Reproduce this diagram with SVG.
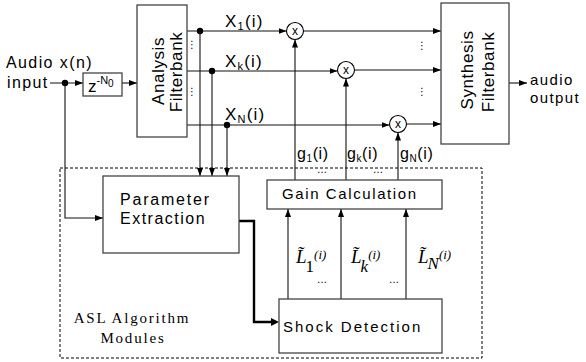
<svg xmlns="http://www.w3.org/2000/svg" width="586" height="362" viewBox="0 0 586 362">
<defs>
<marker id="ah" viewBox="0 0 8 6" refX="8" refY="3" markerWidth="8" markerHeight="6" markerUnits="userSpaceOnUse" orient="auto">
<path d="M0,0 L8,3 L0,6 Z" fill="#000"/>
</marker>
</defs>
<style>
.box{fill:#fff;stroke:#444;stroke-width:1.3}
.ln{fill:none;stroke:#111;stroke-width:1.1}
.thick{fill:none;stroke:#000;stroke-width:2.4}
.t{font-family:"Liberation Sans",Arial,sans-serif;font-size:16px;fill:#000;letter-spacing:1.4px}
.lbl{font-family:"Liberation Sans",Arial,sans-serif;font-size:17px;fill:#000;letter-spacing:1.2px}
.g{font-family:"Liberation Sans",Arial,sans-serif;font-size:16px;fill:#000;letter-spacing:0.6px}
.sub{font-size:11px}
.math{font-family:"Liberation Serif","Times New Roman",serif;font-style:italic;fill:#000}
.dots{font-family:"DejaVu Sans",sans-serif;font-size:10px;fill:#000}
.dot{fill:#000}
.mx{font-family:"Liberation Sans",Arial,sans-serif;font-size:12px;fill:#000}
</style>
<rect x="0" y="0" width="586" height="362" fill="#fff"/>

<g id="asl-region">
<rect x="60" y="168" width="422" height="190" fill="none" stroke="#000" stroke-width="1" stroke-dasharray="3,2"/>
<text x="132" y="323" text-anchor="middle" style="font-family:'Liberation Serif','Times New Roman',serif;font-size:15px;letter-spacing:1.8px">ASL Algorithm</text>
<text x="133" y="343" text-anchor="middle" style="font-family:'Liberation Serif','Times New Roman',serif;font-size:15px;letter-spacing:1.8px">Modules</text>
</g>

<g id="connectors">
<path class="ln" d="M50,83 H83" marker-end="url(#ah)"/>
<circle class="dot" cx="65" cy="83" r="3.2"/>
<path class="ln" d="M122,83 H137" marker-end="url(#ah)"/>
<path class="ln" d="M65,83 V218 H103" marker-end="url(#ah)"/>
<path class="ln" d="M187,31 H286.5" marker-end="url(#ah)"/>
<path class="ln" d="M187,71 H337.5" marker-end="url(#ah)"/>
<path class="ln" d="M187,125 H389.5" marker-end="url(#ah)"/>
<circle class="dot" cx="200" cy="31" r="3.2"/>
<circle class="dot" cx="212" cy="71" r="3.2"/>
<circle class="dot" cx="227" cy="125" r="3.2"/>
<path class="ln" d="M200,31 V176" marker-end="url(#ah)"/>
<path class="ln" d="M212,71 V176" marker-end="url(#ah)"/>
<path class="ln" d="M227,125 V176" marker-end="url(#ah)"/>
<path class="ln" d="M303.5,31 H441" marker-end="url(#ah)"/>
<path class="ln" d="M354.5,70 H441" marker-end="url(#ah)"/>
<path class="ln" d="M406.5,124 H441" marker-end="url(#ah)"/>
<path class="ln" d="M509,83 H527" marker-end="url(#ah)"/>
<path class="ln" d="M295,180 V39.5" marker-end="url(#ah)"/>
<path class="ln" d="M346,180 V78.5" marker-end="url(#ah)"/>
<path class="ln" d="M398,180 V132.5" marker-end="url(#ah)"/>
<path class="ln" d="M288,299 V209" marker-end="url(#ah)"/>
<path class="ln" d="M341,299 V209" marker-end="url(#ah)"/>
<path class="ln" d="M406,299 V209" marker-end="url(#ah)"/>
<path class="thick" d="M239,221 H254 V322 H272"/>
<path d="M271,318 L279,322 L271,326 Z" fill="#000"/>
</g>

<g id="input-label">
<text class="t" x="6" y="68">Audio x(n)</text>
<text class="t" x="7" y="88">input</text>
</g>

<g id="delay">
<rect class="box" x="83" y="73" width="39" height="23"/>
<text x="88" y="92" style="font-family:'Liberation Sans',Arial,sans-serif;font-size:17px">z<tspan font-size="11" dy="-8">-N</tspan><tspan font-size="10" dy="3">0</tspan></text>
</g>

<g id="analysis">
<rect class="box" x="137" y="5" width="50" height="132"/>
<text class="lbl" transform="translate(164,71) rotate(-90)" text-anchor="middle" style="letter-spacing:0.6px">Analysis</text>
<text class="lbl" transform="translate(182,72) rotate(-90)" text-anchor="middle" style="letter-spacing:0.6px">Filterbank</text>
<text class="dots" x="192" y="48" text-anchor="middle">⋮</text>
<text class="dots" x="192" y="95" text-anchor="middle">⋮</text>
</g>

<g id="band-labels">
<text class="lbl" x="225" y="27">X<tspan class="sub" dy="3">1</tspan><tspan dy="-3">(i)</tspan></text>
<text class="lbl" x="225" y="67">X<tspan class="sub" dy="3">k</tspan><tspan dy="-3">(i)</tspan></text>
<text class="lbl" x="225" y="120">X<tspan class="sub" dy="3">N</tspan><tspan dy="-3">(i)</tspan></text>
</g>

<g id="mult1">
<circle cx="295" cy="31" r="8.5" fill="#fff" stroke="#000" stroke-width="1.1"/>
<text class="mx" x="295" y="35" text-anchor="middle">x</text>
</g>
<g id="mult2">
<circle cx="346" cy="70" r="8.5" fill="#fff" stroke="#000" stroke-width="1.1"/>
<text class="mx" x="346" y="74" text-anchor="middle">x</text>
</g>
<g id="mult3">
<circle cx="398" cy="124" r="8.5" fill="#fff" stroke="#000" stroke-width="1.1"/>
<text class="mx" x="398" y="128" text-anchor="middle">x</text>
</g>

<g id="synthesis">
<rect class="box" x="441" y="3" width="68" height="141"/>
<text class="lbl" transform="translate(473,70) rotate(-90)" text-anchor="middle" style="letter-spacing:0.6px">Synthesis</text>
<text class="lbl" transform="translate(494,72) rotate(-90)" text-anchor="middle" style="letter-spacing:0.6px">Filterbank</text>
<text class="dots" x="422" y="49" text-anchor="middle">⋮</text>
<text class="dots" x="422" y="95" text-anchor="middle">⋮</text>
</g>

<g id="output-label">
<text class="t" x="530" y="85" style="font-size:15px">audio</text>
<text class="t" x="530" y="103" style="font-size:15px">output</text>
</g>

<g id="gain-labels">
<text class="g" x="297" y="159">g<tspan font-size="10" dy="3">1</tspan><tspan dy="-3">(i)</tspan></text>
<text class="g" x="347" y="159">g<tspan font-size="10" dy="3">k</tspan><tspan dy="-3">(i)</tspan></text>
<text class="g" x="400" y="159">g<tspan font-size="10" dy="3">N</tspan><tspan dy="-3">(i)</tspan></text>
<text class="dots" x="322" y="173" text-anchor="middle">…</text>
<text class="dots" x="378" y="173" text-anchor="middle">…</text>
</g>

<g id="parameter-extraction">
<rect class="box" x="103" y="176" width="136" height="77"/>
<text class="t" x="120" y="205" style="letter-spacing:1.8px">Parameter</text>
<text class="t" x="120" y="224" style="letter-spacing:1.5px">Extraction</text>
</g>

<g id="gain-calculation">
<rect class="box" x="267" y="180" width="175" height="29"/>
<text class="t" x="282" y="199" style="font-size:15px;letter-spacing:1.6px">Gain Calculation</text>
</g>

<g id="level-labels">
<text class="math" x="296" y="263" font-size="19">L&#x303;<tspan font-style="normal" font-size="17" dy="9" dx="-1">1</tspan><tspan font-size="13" dy="-13">(i)</tspan></text>
<text class="math" x="351" y="263" font-size="19">L&#x303;<tspan font-size="17" dy="9" dx="-1">k</tspan><tspan font-size="13" dy="-13">(i)</tspan></text>
<text class="math" x="418" y="263" font-size="19">L&#x303;<tspan font-size="17" dy="6" dx="-1">N</tspan><tspan font-size="13" dy="-10">(i)</tspan></text>
<text class="dots" x="322" y="283" text-anchor="middle">…</text>
<text class="dots" x="394" y="283" text-anchor="middle">…</text>
</g>

<g id="shock-detection">
<rect class="box" x="279" y="299" width="163" height="54"/>
<text class="t" x="283" y="332" style="font-size:15px;letter-spacing:2px">Shock Detection</text>
</g>
</svg>
